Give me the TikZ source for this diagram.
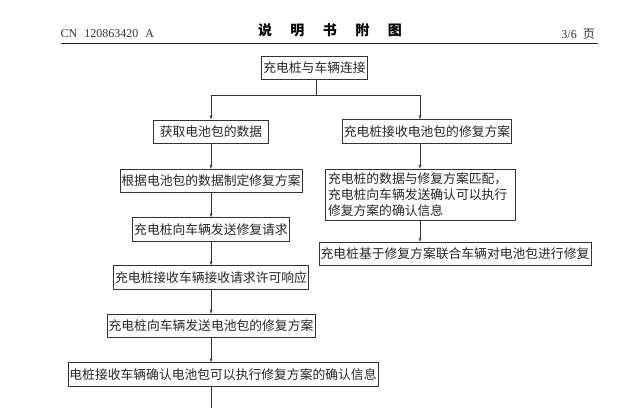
\documentclass[tikz,border=0pt]{standalone}
\usepackage{fontspec}
\setmainfont{Liberation Serif}
\newfontfamily\cjk{Noto Sans CJK SC}
\usetikzlibrary{arrows.meta}

\tikzset{
    stepbox/.style={draw=black!80, line width=0.8pt, inner xsep=1.5pt, inner ysep=0pt,
        minimum height=23.5pt, font=\cjk\fontsize{12.8}{16}\selectfont, text=black!85},
    flow/.style={draw=black!80, line width=0.8pt},
    >={Stealth[length=4.5pt,width=2.8pt]}
}

\begin{document}
\begin{tikzpicture}[x=1pt,y=-1pt]
\useasboundingbox[fill=white] (0,0) rectangle (633,408);
\node[anchor=west, inner sep=0pt, font=\fontsize{12}{12}\selectfont, text=black!80] (pno) at (60.5,34) {CN\hspace{4pt} 120863420\hspace{4pt} A};
\node[font=\cjk\bfseries\fontsize{14}{14}\selectfont] (title) at (330,30) {说\hspace{18.5pt}明\hspace{18.5pt}书\hspace{18.5pt}附\hspace{18.5pt}图};
\node[anchor=east, inner sep=0pt, font=\fontsize{12}{12}\selectfont, text=black!80] (page) at (595,34) {3/6\hspace{3pt} \cjk 页};
\coordinate (rl) at (60.5,43.5);
\coordinate (rr) at (598,43.5);
\draw[line width=1.2pt, black!85] (rl) -- (rr);

\node[stepbox] (b1) at (314.5,68) {充电桩与车辆连接};
\node[stepbox, minimum width=115pt] (L1) at (211,131.7) {获取电池包的数据};
\node[stepbox] (L2) at (211,181) {根据电池包的数据制定修复方案};
\node[stepbox] (L3) at (211,229.5) {充电桩向车辆发送修复请求};
\node[stepbox] (L4) at (211,277.5) {充电桩接收车辆接收请求许可响应};
\node[stepbox] (L5) at (211,326) {充电桩向车辆发送电池包的修复方案};
\node[stepbox] (L6) at (223,374.5) {电桩接收车辆确认电池包可以执行修复方案的确认信息};
\node[stepbox] (R1) at (427,131.5) {充电桩接收电池包的修复方案};
\node[stepbox, text width=184pt, align=left, minimum height=51pt, inner xsep=3pt] (R2) at (420,194.7)
    {充电桩的数据与修复方案匹配，\\充电桩向车辆发送确认可以执行\\修复方案的确认信息};
\node[stepbox] (R3) at (455,254) {充电桩基于修复方案联合车辆对电池包进行修复};

\coordinate (sp) at (316,95);
\coordinate (spl) at (211,95);
\coordinate (spr) at (420,95);
\coordinate (bot) at (211,408);
\draw[flow] (b1.south -| sp) -- (sp);
\draw[flow] (spl) -- (spr);
\draw[flow,->] (spl) -- (L1);
\draw[flow,->] (spr) -- (spr |- R1.north);
\foreach \a/\b in {L1/L2,L2/L3,L3/L4,L4/L5}
    \draw[flow,->] (\a) -- (\b);
\draw[flow,->] (L5) -- (L5 |- L6.north);
\draw[flow] (L6.south -| L5) -- (bot);
\draw[flow,->] (R2 |- R1.south) -- (R2);
\draw[flow,->] (R2) -- (R2 |- R3.north);
\end{tikzpicture}
\end{document}
